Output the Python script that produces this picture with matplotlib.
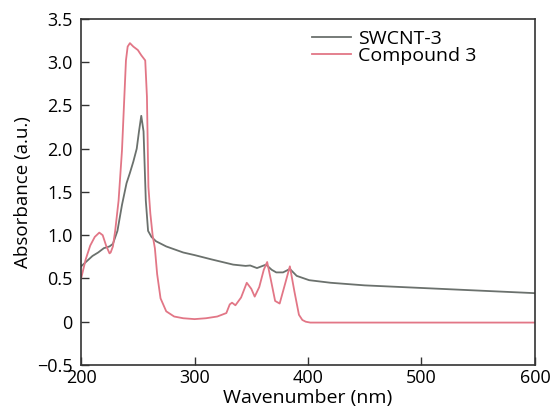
import numpy as np
import matplotlib.pyplot as plt

plt.rcParams['font.family'] = ['Open Sans', 'DejaVu Sans']

# SWCNT-3
swcnt_x = [200, 205, 210, 215, 220, 225, 228, 232, 236, 240, 243, 246, 249, 251, 253, 255,
           257, 259, 262, 266, 275, 290, 300, 315, 334, 345, 349, 355, 363, 368, 372, 378,
           384, 390, 401, 420, 450, 500, 550, 600]
swcnt_y = [0.64, 0.70, 0.76, 0.80, 0.85, 0.87, 0.90, 1.05, 1.35, 1.60, 1.72, 1.85, 2.00, 2.20,
           2.38, 2.20, 1.40, 1.05, 0.98, 0.93, 0.87, 0.80, 0.77, 0.72, 0.66, 0.645, 0.65, 0.62,
           0.66, 0.60, 0.57, 0.57, 0.61, 0.53, 0.48, 0.45, 0.42, 0.39, 0.36, 0.33]

# Compound 3
cmpd_x = [200, 204, 208, 212, 216, 219, 222, 225, 226, 228, 230, 233, 236, 239.5, 241, 243,
          246, 250, 253, 256.5, 258, 259.3, 261, 263, 265, 267, 270, 275, 282, 290, 300,
          310, 320, 328, 331, 333, 336, 341, 346, 350, 353, 357, 361, 364, 367, 371, 375,
          379, 384, 388, 392, 395, 398, 402, 450, 500, 550, 600]
cmpd_y = [0.50, 0.72, 0.88, 0.98, 1.03, 1.00, 0.88, 0.79, 0.80, 0.87, 1.05, 1.40, 1.98, 3.02,
          3.18, 3.22, 3.18, 3.14, 3.08, 3.02, 2.60, 1.56, 1.25, 1.00, 0.85, 0.55, 0.27, 0.12,
          0.06, 0.04, 0.03, 0.04, 0.06, 0.10, 0.20, 0.22, 0.19, 0.28, 0.45, 0.38, 0.29, 0.40,
          0.60, 0.69, 0.50, 0.24, 0.21, 0.40, 0.64, 0.35, 0.08, 0.02, 0.0, -0.01, -0.01,
          -0.01, -0.01, -0.01]

xticks = [200, 300, 400, 500, 600]
yticks = [-0.5, 0, 0.5, 1.0, 1.5, 2.0, 2.5, 3.0, 3.5]
ytick_labels = ['\u22120.5', '0', '0.5', '1.0', '1.5', '2.0', '2.5', '3.0', '3.5']

fig = plt.figure(figsize=(5.52, 4.11), dpi=100)
ax = fig.add_axes([0.147, 0.112, 0.822, 0.842])

ax.plot(swcnt_x, swcnt_y, color='#6b716d', lw=1.3, label='SWCNT-3')
ax.plot(cmpd_x, cmpd_y, color='#e27686', lw=1.3, label='Compound 3')

ax.set_xlim(200, 600)
ax.set_ylim(-0.5, 3.5)
ax.set_xticks(xticks)
ax.set_yticks(yticks)
ax.set_yticklabels(ytick_labels)
ax.tick_params(direction='in', length=6, width=1, labelsize=13, color='#333333')
ax.tick_params(axis='x', pad=3)
ax.tick_params(axis='y', pad=6)
for s in ax.spines.values():
    s.set_linewidth(1.2)
    s.set_color('#333333')

ax.set_xlabel('Wavenumber (nm)', fontsize=14, labelpad=1)
ax.set_ylabel('Absorbance (a.u.)', fontsize=13.5, labelpad=4)

ax.legend(loc='upper right', bbox_to_anchor=(0.895, 1.0), frameon=False, fontsize=14,
          handlelength=2.0, handletextpad=0.35, labelspacing=-0.05, borderaxespad=0.15)

fig.savefig('out.png', dpi=100)
